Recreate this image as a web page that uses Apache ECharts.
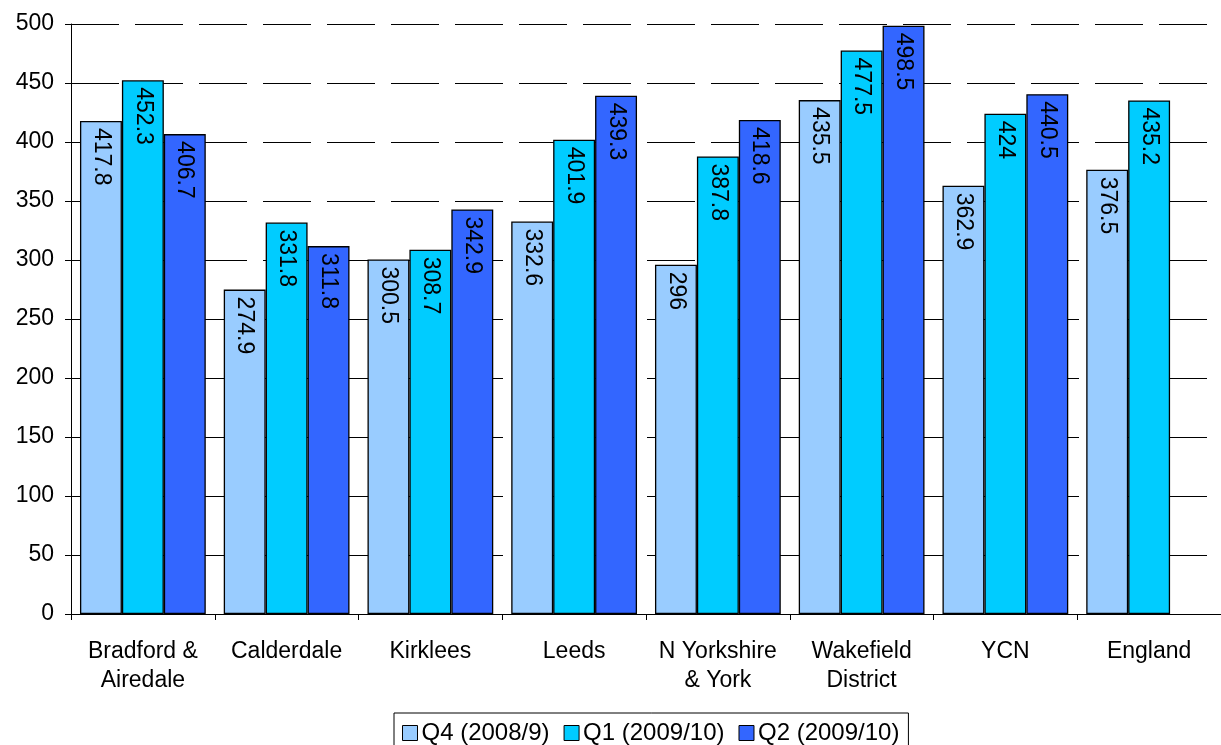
<!DOCTYPE html>
<html><head><meta charset="utf-8">
<script src="https://cdn.jsdelivr.net/npm/echarts@6/dist/echarts.min.js"></script>
<style>html,body{margin:0;padding:0;background:#fff}#c{width:1221px;height:745px}</style>
</head><body><div id="c"></div>
<script>
const categories = ['Bradford &\nAiredale','Calderdale','Kirklees','Leeds','N Yorkshire\n& York','Wakefield\nDistrict','YCN','England'];
const seriesNames = ['Q4 (2008/9)','Q1 (2009/10)','Q2 (2009/10)'];
const q4 = [417.8, 274.9, 300.5, 332.6, 296, 435.5, 362.9, 376.5];
const q1 = [452.3, 331.8, 308.7, 401.9, 387.8, 477.5, 424, 435.2];
const q2 = [406.7, 311.8, 342.9, 439.3, 418.6, 498.5, 440.5, null];
const colors = ['#99ccff','#00ccff','#3366ff'];
const font = 'Liberation Sans, Arial, sans-serif';

const chart = echarts.init(document.getElementById('c'));
function mk(name, data, color){
  return {
    name, type:'bar', data, barGap:'0%', barCategoryGap:'12.5%',
    itemStyle:{color, borderColor:'#000', borderWidth:1.3},
    label:{show:true, position:'insideTop', rotate:-90, align:'left', verticalAlign:'middle',
      distance:7, color:'#000', fontFamily:font, fontSize:23,
      formatter:p=>String(p.value)}
  };
}
chart.setOption({
  animation:false,
  grid:{left:71, right:0, top:24, bottom:131, containLabel:false},
  legend:{bottom:-8, left:394, itemWidth:15, itemHeight:15, itemGap:14,
    borderColor:'#000', borderWidth:1, padding:[8,9,8,8],
    textStyle:{fontFamily:font, fontSize:24, color:'#000', padding:[0,0,0,-1]},
    icon:'rect', data:seriesNames.map((n,i)=>({name:n, itemStyle:{borderColor:'#000', borderWidth:1}}))},
  xAxis:{type:'category', data:categories,
    axisLine:{lineStyle:{color:'#000', width:1}},
    axisTick:{show:true, length:6, lineStyle:{color:'#000'}},
    axisLabel:{fontFamily:font, fontSize:23, color:'#000', margin:23, lineHeight:29, interval:0}},
  yAxis:{type:'value', min:0, max:500, interval:50,
    axisLine:{show:true, lineStyle:{color:'#000', width:1}},
    axisTick:{show:true, length:6, lineStyle:{color:'#000'}},
    axisLabel:{fontFamily:font, fontSize:23, color:'#000', margin:17},
    splitLine:{lineStyle:{color:'#000', width:1, type:[48,16]}}},
  series:[mk(seriesNames[0],q4,colors[0]), mk(seriesNames[1],q1,colors[1]), mk(seriesNames[2],q2,colors[2])]
});
</script></body></html>
